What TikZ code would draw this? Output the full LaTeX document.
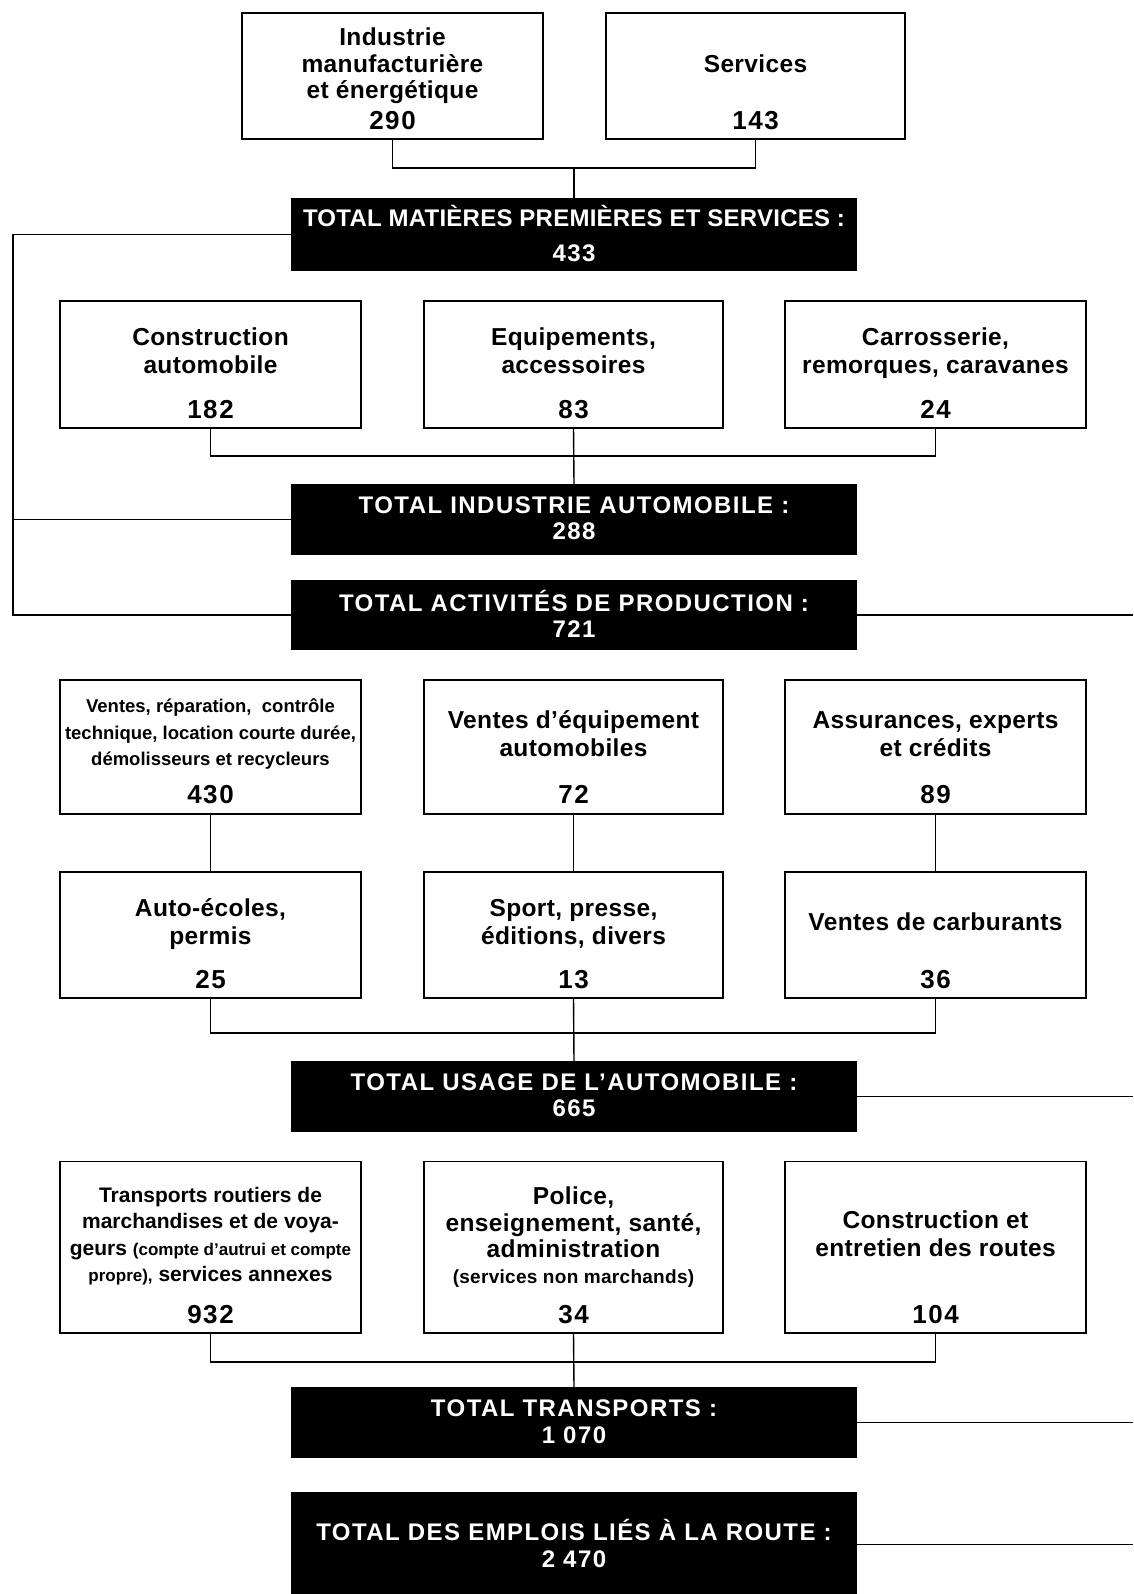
\documentclass[tikz,border=0pt]{standalone}
\usepackage{fontspec}
\setmainfont{Liberation Sans}
\newcommand\fbig{\fontsize{24.5}{26.4}\selectfont\bfseries\addfontfeature{LetterSpace=1.5}}
\newcommand\fnum{\fontsize{26}{26.4}\selectfont\bfseries\addfontfeature{LetterSpace=6}}
\newcommand\fsmall{\fontsize{18.5}{26.4}\selectfont\bfseries}
\newcommand\fmid{\fontsize{21}{26.4}\selectfont\bfseries}
\newcommand\ftiny{\fontsize{17}{26.4}\selectfont\bfseries}
\newcommand\fwhite{\fontsize{24}{26.4}\selectfont\bfseries\addfontfeature{LetterSpace=6}}
\newcommand\sx{\vphantom{Ég}}
\newcommand\mybox[6]{\node[#6,minimum width={#4-#2},minimum height={#5-#3}] (#1) at ({(#2+#4)/2},{(#3+#5)/2}) {};}
\begin{document}
\begin{tikzpicture}[x=1pt,y=-1pt,
  box/.style={draw,line width=1.4pt,inner sep=0pt,outer sep=0pt},
  tot/.style={fill=black,inner sep=0pt,outer sep=0pt},
  wire/.style={line width=1.4pt},
  txt/.style={font=\fbig,align=center,inner sep=0pt,yshift=-2pt},
  num/.style={font=\fnum,align=center,inner sep=0pt},
  stxt/.style={font=\fsmall,align=center,inner sep=0pt,yshift=-1.5pt},
  wtxt/.style={font=\fwhite,align=center,inner sep=0pt,text=white}]
\useasboundingbox (0,0) rectangle (1133,1594);
% boxes
\mybox{ind}{242}{13}{543}{139}{box}
\mybox{serv}{606}{13}{905}{139}{box}
\mybox{t1}{291}{198}{857}{271}{tot}
\mybox{ca}{60}{301}{361}{428}{box}
\mybox{cb}{424}{301}{723}{428}{box}
\mybox{cc}{785}{301}{1086}{428}{box}
\mybox{t2}{291}{484}{857}{555}{tot}
\mybox{t3}{291}{580}{857}{650}{tot}
\mybox{va}{60}{680}{361}{814}{box}
\mybox{vb}{424}{680}{723}{814}{box}
\mybox{vc}{785}{680}{1086}{814}{box}
\mybox{aa}{60}{872}{361}{998}{box}
\mybox{ab}{424}{872}{723}{998}{box}
\mybox{ac}{785}{872}{1086}{998}{box}
\mybox{t4}{291}{1061}{857}{1132}{tot}
\mybox{ra}{60}{1161.5}{361}{1333}{box}
\mybox{rb}{424}{1161.5}{723}{1333}{box}
\mybox{rc}{785}{1161.5}{1086}{1333}{box}
\mybox{t5}{291}{1387}{857}{1458}{tot}
\mybox{t6}{291}{1492}{857}{1597}{tot}
% texts
\node[txt] (ind1) at (392.5,62) {\sx Industrie\\manufacturière\\\sx et énergétique};
\node[num] (ind2) at (392.5,121) {290};
\node[txt] (serv1) at (755.5,62) {\sx Services};
\node[num] (serv2) at (755.5,121) {143};
\node[wtxt] (t1t) at (574,233.7) {{\addfontfeature{LetterSpace=1}TOTAL MATIÈRES PREMIÈRES ET SERVICES :}\\[8pt]433};
\node[txt] (ca1) at (210.5,349.5) {\sx Construction\\\sx automobile};
\node[num] (ca2) at (210.5,409.5) {182};
\node[txt] (cb1) at (573.5,349.5) {\sx Equipements,\\\sx accessoires};
\node[num] (cb2) at (573.5,409.5) {83};
\node[txt] (cc1) at (935.5,349.5) {\sx Carrosserie,\\\sx remorques, caravanes};
\node[num] (cc2) at (935.5,409.5) {24};
\node[wtxt] (t2t) at (574,518.2) {TOTAL INDUSTRIE AUTOMOBILE :\\288};
\node[wtxt] (t3t) at (574,613.7) {TOTAL ACTIVITÉS DE PRODUCTION :\\721};
\node[stxt] (va1) at (210.5,731.6) {\sx Ventes, réparation,\ \ contrôle\\technique, location courte durée,\\\sx démolisseurs et recycleurs};
\node[num] (va2) at (210.5,794.6) {430};
\node[txt] (vb1) at (573.5,732.6) {\sx Ventes d’équipement\\\sx automobiles};
\node[num] (vb2) at (573.5,794.6) {72};
\node[txt] (vc1) at (935.5,732.6) {\sx Assurances, experts\\\sx et crédits};
\node[num] (vc2) at (935.5,794.6) {89};
\node[txt] (aa1) at (210.5,920.6) {\sx Auto-écoles,\\\sx permis};
\node[num] (aa2) at (210.5,979.6) {25};
\node[txt] (ab1) at (573.5,920.6) {\sx Sport, presse,\\\sx éditions, divers};
\node[num] (ab2) at (573.5,979.6) {13};
\node[txt] (ac1) at (935.5,920.6) {\sx Ventes de carburants};
\node[num] (ac2) at (935.5,979.6) {36};
\node[wtxt] (t4t) at (574,1095.3) {TOTAL USAGE DE L’AUTOMOBILE :\\665};
\node[txt,font=\fmid] (ra1) at (210.5,1233) {\sx Transports routiers de\\marchandises et de voya-\\geurs {\ftiny(compte d'autrui et compte}\\\sx{\ftiny propre),} services annexes};
\node[num] (ra2) at (210.5,1314.8) {932};
\node[txt] (rb1) at (573.5,1234) {\sx Police,\\enseignement, santé,\\administration\\\sx{\fontsize{19}{26.4}\selectfont (services non marchands)}};
\node[num] (rb2) at (573.5,1314.8) {34};
\node[txt] (rc1) at (935.5,1232.5) {\sx Construction et\\\sx entretien des routes};
\node[num] (rc2) at (935.5,1314.8) {104};
\node[wtxt] (t5t) at (574,1421.6) {TOTAL TRANSPORTS :\\1 070};
\node[wtxt] (t6t) at (574,1543.5) {TOTAL DES EMPLOIS LIÉS À LA ROUTE :\\2 470};
% connectors
\coordinate (R) at (1133,0);
\coordinate (j1) at (574,168);
\coordinate (j2) at (574,456);
\coordinate (j4) at (574,1033);
\coordinate (j5) at (574,1362);
\coordinate (L1) at (13,234.5);
\coordinate (L2) at (13,519.5);
\coordinate (L3) at (13,615);
\draw[wire] (ind.south) |- (j1) -| (serv.south);
\draw[wire] (j1) -- (t1.north);
\draw[wire] (ca.south) |- (j2) -| (cc.south);
\draw[wire] (cb.south) -- (t2.north);
\draw[wire] (t1.west) -- (L1) -- (L3) -- (t3.west);
\draw[wire] (L2) -- (t2.west);
\draw[wire] (t3.east) -- (t3.east -| R);
\draw[wire] (va.south) -- (aa.north);
\draw[wire] (vb.south) -- (ab.north);
\draw[wire] (vc.south) -- (ac.north);
\draw[wire] (aa.south) |- (j4) -| (ac.south);
\draw[wire] (ab.south) -- (t4.north);
\draw[wire] (t4.east) -- (t4.east -| R);
\draw[wire] (ra.south) |- (j5) -| (rc.south);
\draw[wire] (rb.south) -- (t5.north);
\draw[wire] (t5.east) -- (t5.east -| R);
\draw[wire] (t6.east) -- (t6.east -| R);
\end{tikzpicture}
\end{document}
